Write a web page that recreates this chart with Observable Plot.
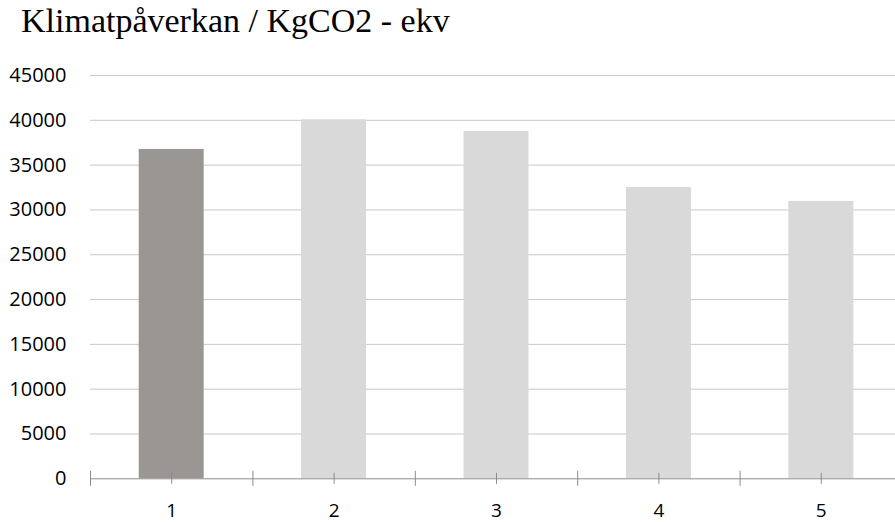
<!DOCTYPE html>
<html>
<head>
<meta charset="utf-8">
<script src="https://cdn.jsdelivr.net/npm/d3@7"></script>
<script src="https://cdn.jsdelivr.net/npm/@observablehq/plot@0.6"></script>
<style>
  html, body { margin: 0; padding: 0; background: #fff; overflow: hidden; }
  #title { box-sizing: border-box; height: 50px; padding: 3.5px 0 0 21px; font-family: "Liberation Serif", serif; font-size: 34px; line-height: 34px; color: #000; white-space: nowrap; }
  #chart svg { display: block; }
</style>
</head>
<body>
<div id="title">Klimatpåverkan / KgCO2 - ekv</div>
<div id="chart"></div>
<script>
const categories = [1, 2, 3, 4, 5];
const values = [36750, 40050, 38760, 32510, 30950];
const barColors = ["#9a9694", "#d9d9d9", "#d9d9d9", "#d9d9d9", "#d9d9d9"];
const yTicks = [0, 5000, 10000, 15000, 20000, 25000, 30000, 35000, 40000, 45000];

const data = categories.map((c, i) => ({cat: c, value: values[i], color: barColors[i]}));
const boundaries = [0, ...categories].map(c => c + 0.5);

const chart = Plot.plot({
  width: 895,
  height: 472,
  marginLeft: 90,
  marginRight: -7,
  marginTop: 25,
  marginBottom: 43.7,
  style: {fontFamily: "'Open Sans', sans-serif", fontSize: "20px", color: "#000", background: "#fff", overflow: "hidden"},
  x: {type: "linear", domain: [0.5, 5.5]},
  y: {domain: [0, 45000]},
  marks: [
    Plot.ruleY(yTicks.slice(1), {stroke: "#c8c8c8", strokeWidth: 1}),
    Plot.rectY(data, {x1: d => d.cat - 0.2, x2: d => d.cat + 0.2, y1: 0, y2: "value", fill: "color"}),
    Plot.ruleY([0], {stroke: "#8c8c8c", strokeWidth: 1}),
    Plot.ruleX(boundaries, {x: d => d, y1: 0, y2: 0, insetTop: -7.5, insetBottom: -7.5, stroke: "#8c8c8c", strokeWidth: 1}),
    Plot.ruleX(categories, {x: d => d, y1: 0, y2: 0, insetTop: -5.5, insetBottom: -5.5, stroke: "#8c8c8c", strokeWidth: 1}),
    Plot.axisY({ticks: yTicks, tickSize: 0, tickPadding: 24, tickFormat: d3.format("d"), label: null, fill: "#000"}),
    Plot.axisX({ticks: categories, tickSize: 0, tickPadding: 24.5, fontSize: 19, tickFormat: d3.format("d"), label: null, fill: "#000"})
  ]
});
document.getElementById("chart").appendChild(chart);
</script>
</body>
</html>
